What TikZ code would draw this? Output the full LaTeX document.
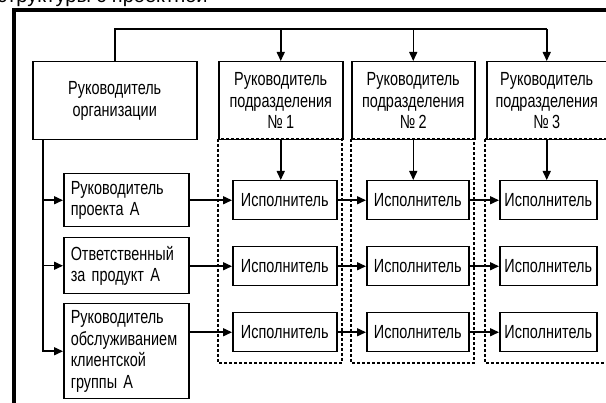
\documentclass[tikz,border=0pt]{standalone}
\usepackage{fontspec}
\setmainfont{Liberation Sans}
\newfontfamily\narrowfont{Liberation Sans}[FakeStretch=0.76]
\usetikzlibrary{arrows.meta}

\tikzset{
  box/.style={draw, line width=1.5pt, inner sep=0pt, anchor=north west,
    font=\narrowfont\fontsize{19}{21.5}\selectfont, align=center},
  leftbox/.style={box, align=left, inner xsep=7pt, text width=111pt},
  execbox/.style={box, minimum height=39pt},
  group/.style={draw, line width=1.4pt, dash pattern=on 3pt off 2pt},
  link/.style={line width=1.5pt},
  arr/.style={link, -{Triangle[length=9pt,width=8pt]}},
  frame/.style={line width=4pt}
}

\begin{document}
\begin{tikzpicture}[x=1pt, y=-1pt]
\useasboundingbox (0,0) rectangle (606,403);
\clip (0,0) rectangle (606,403);

% heading line, running off the top of the page
\node[anchor=base west, inner sep=0pt, font=\fontsize{20}{22}\selectfont] (ttl) at (-3,3) {структуры с проектной};

% outer frame
\draw[frame] (13.5,420) -- (13.5,10.5) -- (620,10.5);

% department columns
\draw[group] (218,139) rectangle (342,363);
\draw[group] (351,139) rectangle (474,363);
\draw[group] (485,139) rectangle (612,363);

% top row
\node[box, minimum width=164pt, minimum height=78pt] (org) at (32,61) {Руководитель\\организации};
\node[box, minimum width=124pt, minimum height=78pt] (d1) at (218,61) {Руководитель\\подразделения\\№\,1};
\node[box, minimum width=123pt, minimum height=78pt] (d2) at (351,61) {Руководитель\\подразделения\\№\,2};
\node[box, minimum width=120pt, minimum height=78pt] (d3) at (486,61) {Руководитель\\подразделения\\№\,3};

% project roles
\node[leftbox, minimum height=53pt] (a1) at (63,173) {Руководитель\\проекта А};
\node[leftbox, minimum height=56pt] (a2) at (63,237) {Ответственный\\за продукт А};
\node[leftbox, minimum height=95pt] (a3) at (63,303) {Руководитель\\обслуживанием\\клиентской\\группы А};

% executors
\node[execbox, minimum width=104pt] (e11) at (232,180) {Исполнитель};
\node[execbox, minimum width=102pt] (e12) at (366,180) {Исполнитель};
\node[execbox, minimum width=97pt]  (e13) at (499,180) {Исполнитель};
\node[execbox, minimum width=104pt] (e21) at (232,246) {Исполнитель};
\node[execbox, minimum width=102pt] (e22) at (366,246) {Исполнитель};
\node[execbox, minimum width=97pt]  (e23) at (499,246) {Исполнитель};
\node[execbox, minimum width=104pt] (e31) at (232,312) {Исполнитель};
\node[execbox, minimum width=102pt] (e32) at (366,312) {Исполнитель};
\node[execbox, minimum width=97pt]  (e33) at (499,312) {Исполнитель};

% bus from the head of the organisation to the departments
\coordinate (bus) at (0,29);
\draw[link] (org.north) |- (bus -| d3.north);
\draw[arr] (bus -| d1.north) -- (d1.north);
\draw[arr] (bus -| d2.north) -- (d2.north);
\draw[arr] (bus -| d3.north) -- (d3.north);

% bus down the left side to the project roles
\coordinate (lb) at ([xshift=11pt]org.south west);
\draw[arr] (lb) |- (a3.west);
\draw[arr] (lb |- a1.west) -- (a1.west);
\draw[arr] (lb |- a2.west) -- (a2.west);

% department heads to their first executor
\draw[arr] (d1.south) -- (d1.south |- e11.north);
\draw[arr] (d2.south) -- (d2.south |- e12.north);
\draw[arr] (d3.south) -- (d3.south |- e13.north);

% rows of executors
\draw[arr] (a1.east) -- (e11.west);
\draw[arr] (e11.east) -- (e12.west);
\draw[arr] (e12.east) -- (e13.west);
\draw[arr] (a2.east |- e21.west) -- (e21.west);
\draw[arr] (e21.east) -- (e22.west);
\draw[arr] (e22.east) -- (e23.west);
\draw[arr] (a3.east |- e31.west) -- (e31.west);
\draw[arr] (e31.east) -- (e32.west);
\draw[arr] (e32.east) -- (e33.west);
\end{tikzpicture}
\end{document}
